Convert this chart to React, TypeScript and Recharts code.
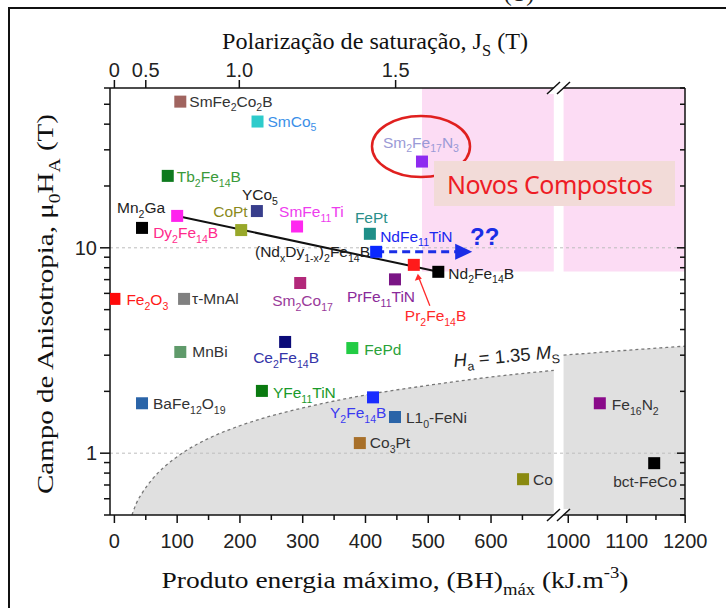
import React from 'react'
import {
  ComposedChart,
  Area,
  Scatter,
  XAxis,
  YAxis,
  ReferenceLine,
  ReferenceArea,
  ReferenceDot,
} from 'recharts'

// ---- data ----
const COMPOUNDS = [
  'SmFe2Co2B', 'SmCo5', 'Sm2Fe17N3', 'Tb2Fe14B', 'YCo5', 'Mn2Ga', 'Dy2Fe14B',
  'CoPt', 'SmFe11Ti', 'FePt', 'NdFe11TiN', 'Nd2Fe14B', 'Pr2Fe14B', 'PrFe11TiN',
  'Sm2Co17', 'Fe2O3', 'MnAl', 'MnBi', 'Ce2Fe14B', 'FePd', 'YFe11TiN',
  'BaFe12O19', 'Y2Fe14B', 'FeNi', 'Co3Pt', 'Co', 'Fe16N2', 'bct-FeCo',
]
const LABELS = [
  'SmFe_{2}Co_{2}B', 'SmCo_{5}', 'Sm_{2}Fe_{17}N_{3}', 'Tb_{2}Fe_{14}B', 'YCo_{5}',
  'Mn_{2}Ga', 'Dy_{2}Fe_{14}B', 'CoPt', 'SmFe_{11}Ti', 'FePt', 'NdFe_{11}TiN',
  'Nd_{2}Fe_{14}B', 'Pr_{2}Fe_{14}B', 'PrFe_{11}TiN', 'Sm_{2}Co_{17}', 'Fe_{2}O_{3}',
  'τ-MnAl', 'MnBi', 'Ce_{2}Fe_{14}B', 'FePd', 'YFe_{11}TiN', 'BaFe_{12}O_{19}',
  'Y_{2}Fe_{14}B', 'L1_{0}-FeNi', 'Co_{3}Pt', 'Co', 'Fe_{16}N_{2}', 'bct-FeCo',
]
// (BH)max, kJ/m3
const BH_MAX = [
  105, 228, 490, 85, 227, 44, 100, 202, 291, 407, 417, 516, 477, 447,
  296, 0, 111, 105, 272, 379, 235, 44, 412, 447, 391, 651, 1054, 1147,
]
// mu0 HA, T
const ANISOTROPY = [
  51.5, 41.2, 26.3, 22.4, 15.1, 12.5, 14.3, 12.2, 12.7, 11.7, 9.56, 7.64, 8.26, 7.02,
  6.74, 5.64, 5.64, 3.11, 3.48, 3.25, 2.01, 1.75, 1.87, 1.5, 1.12, 0.747, 1.75, 0.894,
]

// Ha = 1.35 Ms boundary
const LIMIT_BH = [28, 35, 45, 60, 80, 108, 150, 200, 250, 300, 400, 500, 600, 700, 992, 1100, 1200]
const LIMIT_HA = [0.5, 0.57, 0.645, 0.745, 0.86, 1.0, 1.18, 1.36, 1.52, 1.66, 1.92, 2.14, 2.35, 2.53, 3.0, 3.17, 3.32]

// "novos compostos" zones
const NEW_ZONES_BH = [[490, 700], [992, 1200]]
const NEW_ZONE_HA = [7.66, 60]

// NdFe11TiN -> ?? arrow end
const ARROW_END_BH = 570

// axes
const X_MAJOR = [0, 100, 200, 300, 400, 500, 600, 1000, 1100, 1200]
const X_MINOR = [50, 150, 250, 350, 450, 550, 650, 1050, 1150]
const JS_LABELS = ['0', '0.5', '1.0', '1.5']
const JS_AT_BH = [0, 50, 199, 448]
const Y_MAJOR = [1, 10]
const Y_MINOR = [0.5, 0.6, 0.7, 0.8, 0.9, 2, 3, 4, 5, 6, 7, 8, 9, 20, 30, 40, 50, 60]

// ---- broken x axis: 0..700 then 1000..1200 squeezed a bit ----
const toAxis = (bh: number) => (bh <= 800 ? bh : 723 + (bh - 1000) * 0.9315)

const SANS = '"Liberation Sans", Arial, sans-serif'
const SERIF = '"Liberation Serif", "Times New Roman", serif'

// fill, label colour, label dx, label dy (baseline)
const MARKER_STYLE: Record<string, [string, string, number, number]> = {
  SmFe2Co2B: ['#a0645f', '#333', 9, 5],
  SmCo5: ['#2ecbcb', '#3b8fe8', 10, 5],
  Sm2Fe17N3: ['#8e2bf0', '#9a9ad6', -39, -14],
  Tb2Fe14B: ['#0e7a1e', '#3a9a3a', 9, 6],
  YCo5: ['#383e8c', '#222', -15, -11],
  Mn2Ga: ['#000', '#222', -25, -15],
  Dy2Fe14B: ['#ff22ee', '#ff2a8c', -24, 22],
  CoPt: ['#98a82a', '#8a8a1c', -28, -13],
  SmFe11Ti: ['#ff28f0', '#ee3cee', -18, -9],
  FePt: ['#1f8f88', '#2a8f8a', -15, -11],
  NdFe11TiN: ['#0a28ff', '#1a28f0', 4, -10],
  Nd2Fe14B: ['#000', '#222', 10, 7],
  Pr2Fe14B: ['#ff1a1a', '#ff2a2a', -9, 56],
  PrFe11TiN: ['#7a1585', '#8a2a9a', -48, 23],
  Sm2Co17: ['#b2287a', '#9a3a9a', -28, 23],
  Fe2O3: ['#ff0a0a', '#ff1a1a', 12, 6],
  MnAl: ['#808080', '#333', 8, 5],
  MnBi: ['#5f9a6a', '#333', 12, 5],
  Ce2Fe14B: ['#0a0a78', '#3434a8', -32, 21],
  FePd: ['#22cc44', '#2aa33a', 12, 7],
  YFe11TiN: ['#0a7a10', '#1a9a2a', 11, 7],
  BaFe12O19: ['#2a64a8', '#333', 11, 6],
  Y2Fe14B: ['#1a2cff', '#3a3af0', -43, 21],
  FeNi: ['#2a64a8', '#333', 11, 6],
  Co3Pt: ['#a8702a', '#333', 10, 5],
  Co: ['#8a8a10', '#333', 10, 6],
  Fe16N2: ['#8a0a8a', '#333', 12, 7],
  'bct-FeCo': ['#000', '#333', -41, 24],
}

// text with _{sub} and ^{sup}
function rich(src: string, size: number) {
  const out: React.ReactNode[] = []
  const re = /([_^])\{([^}]*)\}|([^_^]+)/g
  let m: RegExpExecArray | null
  let shift = 0
  let k = 0
  while ((m = re.exec(src))) {
    if (m[3]) {
      out.push(<tspan key={k++} dy={-shift} fontSize={size}>{m[3]}</tspan>)
      shift = 0
    } else {
      const off = m[1] === '_' ? size * 0.3 : -size * 0.4
      out.push(<tspan key={k++} dy={off - shift} fontSize={size * 0.68}>{m[2]}</tspan>)
      shift = off
    }
  }
  return out
}

const POINTS = COMPOUNDS.map((name, i) => ({
  name,
  label: LABELS[i],
  x: toAxis(BH_MAX[i]),
  y: ANISOTROPY[i],
}))

const LIMIT_ROWS = LIMIT_BH.map((bh, i) => ({
  x: toAxis(bh),
  left: bh <= 700 ? LIMIT_HA[i] : null,
  right: bh > 700 ? LIMIT_HA[i] : null,
}))

const dyIdx = COMPOUNDS.indexOf('Dy2Fe14B')
const ndIdx = COMPOUNDS.indexOf('Nd2Fe14B')
const NDDY_LINE = [dyIdx, ndIdx].map(i => ({ x: toAxis(BH_MAX[i]), y: ANISOTROPY[i] }))
const tinIdx = COMPOUNDS.indexOf('NdFe11TiN')

const X_TICKS = [...X_MAJOR, ...X_MINOR].map(toAxis)
const isMajorX = (v: number) => X_MAJOR.some(t => Math.abs(toAxis(t) - v) < 0.01)
const labelX = (v: number) => X_MAJOR.find(t => Math.abs(toAxis(t) - v) < 0.01)

function BottomTick(props: any) {
  const { x, y, payload } = props
  const major = isMajorX(payload.value)
  return (
    <g>
      <line x1={x} y1={y} x2={x} y2={y + (major ? 8 : 5)} stroke="#111" strokeWidth={1.5} />
      {major && (
        <text x={x} y={y + 33} textAnchor="middle" fontSize={20} fontFamily={SANS} fill="#222">
          {labelX(payload.value)}
        </text>
      )}
    </g>
  )
}

function TopTick(props: any) {
  const { x, y, payload } = props
  const i = JS_AT_BH.findIndex(t => Math.abs(toAxis(t) - payload.value) < 0.01)
  return (
    <g>
      <line x1={x} y1={y - 8} x2={x} y2={y} stroke="#111" strokeWidth={1.5} />
      <text x={x} y={y - 11} textAnchor="middle" fontSize={20} fontFamily={SANS} fill="#222">
        {JS_LABELS[i]}
      </text>
    </g>
  )
}

function LeftTick(props: any) {
  const { x, y, payload } = props
  const major = Y_MAJOR.includes(payload.value)
  return (
    <g>
      <line x1={x - (major ? 10 : 6)} y1={y} x2={x} y2={y} stroke="#111" strokeWidth={1.5} />
      {major && (
        <text x={x - 13} y={y} dy="0.36em" textAnchor="end" fontSize={20} fontFamily={SANS} fill="#222">
          {payload.value}
        </text>
      )}
    </g>
  )
}

function RightTick(props: any) {
  const { x, y, payload } = props
  const major = Y_MAJOR.includes(payload.value)
  return <line x1={x - (major ? 8 : 5)} y1={y} x2={x} y2={y} stroke="#111" strokeWidth={1.5} />
}

function Compound(props: any) {
  const { cx, cy, payload } = props
  const [fill, color, dx, dy] = MARKER_STYLE[payload.name]
  const isPr = payload.name === 'Pr2Fe14B'
  return (
    <g>
      {isPr && (
        <g>
          <line x1={cx + 16} y1={cy + 41} x2={cx + 5} y2={cy + 13} stroke="#ff2a2a" strokeWidth={1.3} />
          <polygon
            points={`${cx + 4},${cy + 9} ${cx + 1},${cy + 16} ${cx + 8},${cy + 14}`}
            fill="#ff2a2a"
          />
        </g>
      )}
      <rect x={cx - 6} y={cy - 6} width={12} height={12} fill={fill} />
      <text x={cx + dx} y={cy + dy} fill={color} fontFamily={SANS} fontSize={15.5}>
        {rich(payload.label, 15.5)}
      </text>
    </g>
  )
}

const nothing = () => <g />

const arrowHead = (props: any) => {
  const { cx, cy } = props
  return <polygon points={`${cx},${cy} ${cx - 17},${cy - 8} ${cx - 17},${cy + 8}`} fill="#1a2ee6" />
}

export default function App() {
  return (
    <div style={{ position: 'absolute', left: 0, top: 0, width: 726, height: 608, background: '#fff' }}>
      <ComposedChart
        width={726}
        height={608}
        data={LIMIT_ROWS}
        margin={{ top: 0, right: 0, bottom: 0, left: 0 }}
      >
        <XAxis
          dataKey="x"
          type="number"
          domain={[-7, 909]}
          allowDataOverflow
          ticks={X_TICKS}
          interval={0}
          height={93}
          tickSize={0}
          tickMargin={0}
          tickLine={false}
          tick={(p: any) => <BottomTick {...p} />}
          axisLine={{ stroke: '#111', strokeWidth: 1.5 }}
        />
        <XAxis
          xAxisId="top"
          orientation="top"
          dataKey="x"
          type="number"
          domain={[-7, 909]}
          allowDataOverflow
          ticks={JS_AT_BH.map(toAxis)}
          interval={0}
          height={88}
          tickSize={0}
          tickMargin={0}
          tickLine={false}
          tick={(p: any) => <TopTick {...p} />}
          axisLine={{ stroke: '#111', strokeWidth: 1.5 }}
        />
        <YAxis
          type="number"
          scale="log"
          domain={[0.5, 60]}
          allowDataOverflow
          ticks={[...Y_MINOR, ...Y_MAJOR].sort((a, b) => a - b)}
          interval={0}
          width={110}
          tickSize={0}
          tickMargin={0}
          tickLine={false}
          tick={(p: any) => <LeftTick {...p} />}
          axisLine={{ stroke: '#111', strokeWidth: 1.5 }}
        />
        <YAxis
          yAxisId="right"
          orientation="right"
          type="number"
          scale="log"
          domain={[0.5, 60]}
          allowDataOverflow
          ticks={[...Y_MINOR, ...Y_MAJOR].sort((a, b) => a - b)}
          interval={0}
          width={41}
          tickSize={0}
          tickMargin={0}
          tickLine={false}
          tick={(p: any) => <RightTick {...p} />}
          axisLine={{ stroke: '#111', strokeWidth: 1.5 }}
        />

        {NEW_ZONES_BH.map(([a, b]) => (
          <ReferenceArea
            key={a}
            x1={toAxis(a)}
            x2={toAxis(b)}
            y1={NEW_ZONE_HA[0]}
            y2={NEW_ZONE_HA[1]}
            fill="#fcdcf4"
            fillOpacity={1}
            stroke="none"
            ifOverflow="hidden"
          />
        ))}

        <Area
          dataKey="left"
          type="monotone"
          baseValue={0.5}
          fill="#e0e0e0"
          fillOpacity={1}
          stroke="#777"
          strokeWidth={1.3}
          strokeDasharray="3 3"
          connectNulls={false}
          dot={false}
          activeDot={false}
          isAnimationActive={false}
        />
        <Area
          dataKey="right"
          type="monotone"
          baseValue={0.5}
          fill="#e0e0e0"
          fillOpacity={1}
          stroke="#777"
          strokeWidth={1.3}
          strokeDasharray="3 3"
          connectNulls={false}
          dot={false}
          activeDot={false}
          isAnimationActive={false}
        />

        <ReferenceLine y={10} stroke="#bdbdbd" strokeDasharray="3 3" />
        <ReferenceLine y={1} stroke="#bdbdbd" strokeDasharray="3 3" />

        <Scatter
          data={NDDY_LINE}
          dataKey="y"
          line={{ stroke: '#111', strokeWidth: 2 }}
          shape={nothing}
          isAnimationActive={false}
        />
        <ReferenceLine
          segment={[
            { x: toAxis(BH_MAX[tinIdx]), y: ANISOTROPY[tinIdx] },
            { x: toAxis(ARROW_END_BH) - 14, y: ANISOTROPY[tinIdx] },
          ]}
          stroke="#1a2ee6"
          strokeWidth={3}
          strokeDasharray="8 5"
        />
        <ReferenceDot
          x={toAxis(ARROW_END_BH)}
          y={ANISOTROPY[tinIdx]}
          shape={arrowHead}
        />

        <Scatter data={POINTS} dataKey="y" shape={Compound} isAnimationActive={false} />
      </ComposedChart>

      <svg
        width={726}
        height={608}
        style={{ position: 'absolute', left: 0, top: 0, pointerEvents: 'none' }}
      >
        {/* frame of the original figure */}
        <path d="M9 608 L9 8 L726 8" fill="none" stroke="#111" strokeWidth={2} />
        <text x={519} y={1} textAnchor="middle" fontFamily={SERIF} fontSize={24} fill="#222">(T)</text>

        {/* axis breaks */}
        {[88, 515].map(y => (
          <g key={y}>
            <polygon points={`${547},${y + 6} ${557},${y + 6} ${570},${y - 6} ${560},${y - 6}`} fill="#fff" />
            <line x1={547} y1={y + 6} x2={560} y2={y - 6} stroke="#111" strokeWidth={1.5} />
            <line x1={557} y1={y + 6} x2={570} y2={y - 6} stroke="#111" strokeWidth={1.5} />
          </g>
        ))}

        {/* titles */}
        <text x={375} y={49} textAnchor="middle" fontFamily={SERIF} fontSize={24} fill="#111" textLength={306} lengthAdjust="spacingAndGlyphs">
          {rich('Polarização de saturação, J_{S} (T)', 24)}
        </text>
        <text x={395} y={588} textAnchor="middle" fontFamily={SERIF} fontSize={24} fill="#111" textLength={467} lengthAdjust="spacingAndGlyphs">
          {rich('Produto energia máximo, (BH)_{máx} (kJ.m^{-3})', 24)}
        </text>
        <text
          transform="translate(53,304) rotate(-90)"
          textAnchor="middle"
          fontFamily={SERIF}
          fontSize={24}
          fill="#111"
          textLength={380}
          lengthAdjust="spacingAndGlyphs"
        >
          {rich('Campo de Anisotropia, μ_{0}H_{A} (T)', 24)}
        </text>

        {/* annotations */}
        <ellipse cx={421} cy={146.5} rx={49} ry={30.5} fill="none" stroke="#e0201f" strokeWidth={2.5} />
        <rect x={434} y={161} width={241} height={45} fill="#f2dbd8" />
        <text x={550} y={194} textAnchor="middle" fontFamily='"Noto Sans", sans-serif' fontSize={25} fill="#ee1c25" textLength={206}>
          Novos Compostos
        </text>
        <text x={470} y={245} fontFamily={SANS} fontWeight="bold" fontSize={24} fill="#1a2ee6">??</text>
        <text x={255} y={257} fontFamily={SANS} fontSize={15.5} fill="#222">
          {rich('(Nd_{x}Dy_{1-x})_{2}Fe_{14}B', 15.5)}
        </text>
        <text transform="translate(454,367) rotate(-5)" fontFamily={SANS} fontSize={18.5} fill="#222">
          <tspan fontStyle="italic">H</tspan>
          <tspan dy={5} fontSize={12.5}>a</tspan>
          <tspan dy={-5}> = 1.35 </tspan>
          <tspan fontStyle="italic">M</tspan>
          <tspan dy={5} fontSize={12.5}>S</tspan>
        </text>
      </svg>
    </div>
  )
}
